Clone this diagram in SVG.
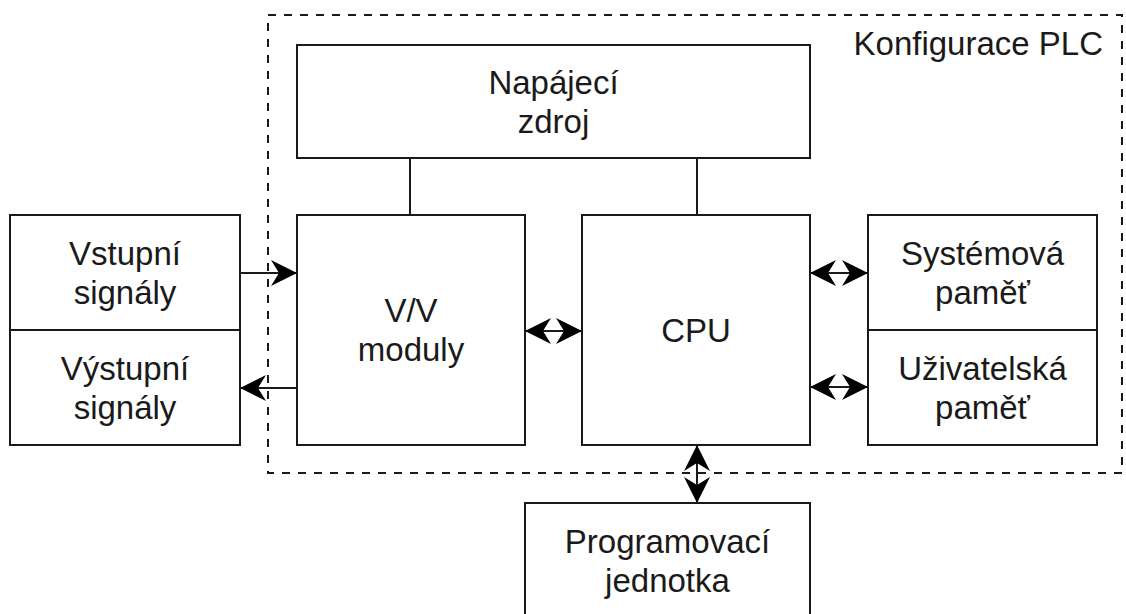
<svg xmlns="http://www.w3.org/2000/svg" width="1126" height="614" viewBox="0 0 1126 614">
<style>
.box{fill:#fff;stroke:#1a1a1a;stroke-width:2}
.ln{fill:none;stroke:#1a1a1a;stroke-width:2}
.t{font-family:"Liberation Sans",Arial,sans-serif;font-size:33px;fill:#1a1a1a;text-anchor:middle}
</style>
<defs>
<marker id="ah" viewBox="0 0 26 26" refX="25" refY="13" markerWidth="26" markerHeight="26" markerUnits="userSpaceOnUse" orient="auto-start-reverse">
<path d="M26,13 L0,0 L8,13 L0,26 Z" fill="#000"/>
</marker>
</defs>
<rect x="268" y="15" width="854" height="458" fill="none" stroke="#1a1a1a" stroke-width="2" stroke-dasharray="8 8"/>
<text class="t" x="1103" y="55" style="text-anchor:end">Konfigurace PLC</text>
<g id="connectors">
<line class="ln" x1="410" y1="158" x2="410" y2="215"/>
<line class="ln" x1="697" y1="158" x2="697" y2="215"/>
<line class="ln" x1="240" y1="273" x2="296" y2="273" marker-end="url(#ah)"/>
<line class="ln" x1="297" y1="388" x2="241" y2="388" marker-end="url(#ah)"/>
<line class="ln" x1="526" y1="331" x2="581" y2="331" marker-start="url(#ah)" marker-end="url(#ah)"/>
<line class="ln" x1="811" y1="273" x2="867" y2="273" marker-start="url(#ah)" marker-end="url(#ah)"/>
<line class="ln" x1="811" y1="387" x2="867" y2="387" marker-start="url(#ah)" marker-end="url(#ah)"/>
<line class="ln" x1="697" y1="446" x2="697" y2="502" marker-start="url(#ah)" marker-end="url(#ah)"/>
</g>
<g id="napajeci">
<rect class="box" x="297" y="45" width="513" height="113"/>
<text class="t" x="553.5" y="94">Napájecí</text>
<text class="t" x="553.5" y="133">zdroj</text>
</g>
<g id="vstup">
<rect class="box" x="10" y="215" width="230" height="115"/>
<text class="t" x="125" y="265">Vstupní</text>
<text class="t" x="125" y="304">signály</text>
</g>
<g id="vystup">
<rect class="box" x="10" y="330" width="230" height="115"/>
<text class="t" x="125" y="380">Výstupní</text>
<text class="t" x="125" y="419">signály</text>
</g>
<g id="vv">
<rect class="box" x="297" y="215" width="228" height="230"/>
<text class="t" x="411" y="322">V/V</text>
<text class="t" x="411" y="361">moduly</text>
</g>
<g id="cpu">
<rect class="box" x="582" y="215" width="228" height="230"/>
<text class="t" x="696" y="342">CPU</text>
</g>
<g id="sys">
<rect class="box" x="868" y="215" width="229" height="115"/>
<text class="t" x="982.5" y="265">Systémová</text>
<text class="t" x="982.5" y="304">paměť</text>
</g>
<g id="uziv">
<rect class="box" x="868" y="330" width="229" height="115"/>
<text class="t" x="982.5" y="380">Uživatelská</text>
<text class="t" x="982.5" y="419">paměť</text>
</g>
<g id="prog">
<rect class="box" x="525" y="503" width="285" height="116"/>
<text class="t" x="667.5" y="553">Programovací</text>
<text class="t" x="667.5" y="592">jednotka</text>
</g>
</svg>
